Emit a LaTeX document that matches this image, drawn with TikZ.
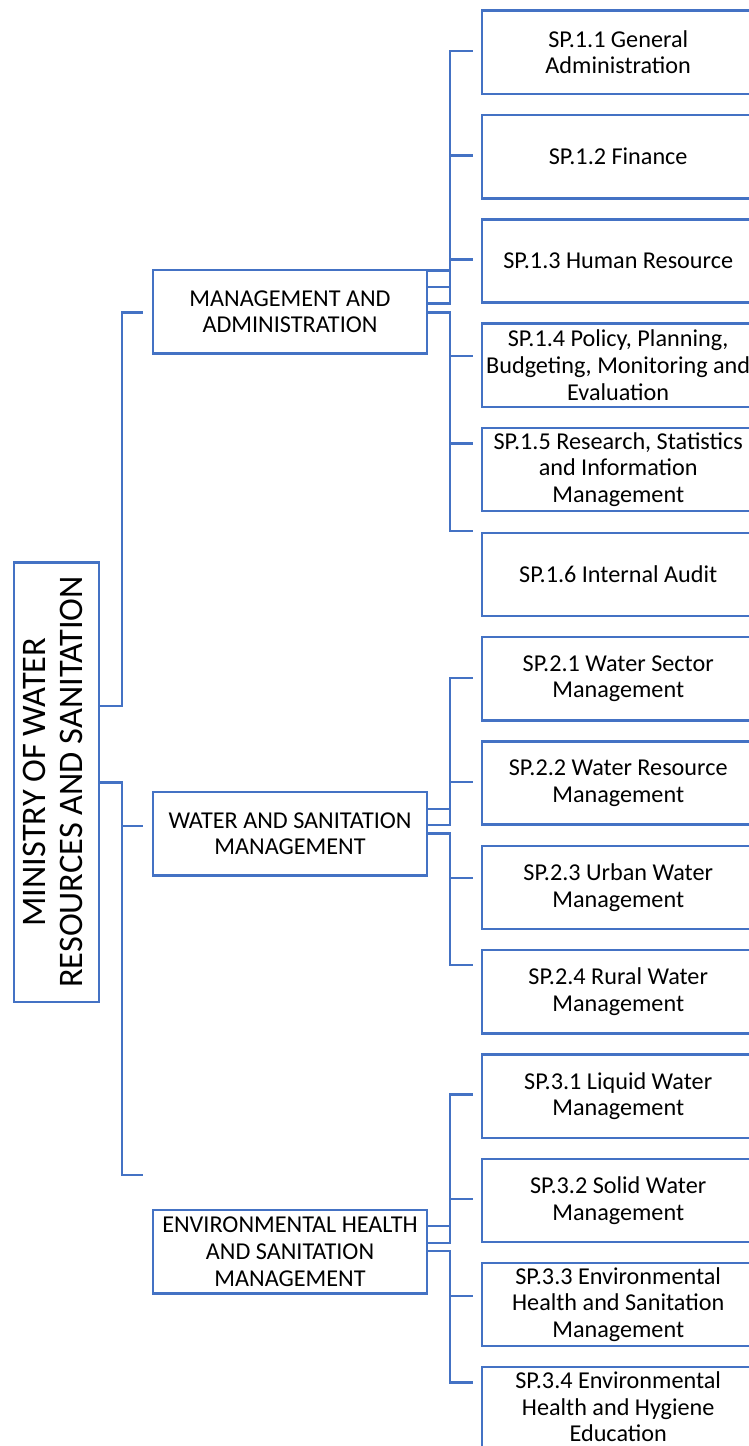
\documentclass[tikz,border=0pt]{standalone}
\usepackage{fontspec}
\usepackage{graphicx}
\setmainfont{Carlito}
\definecolor{ob}{HTML}{4472C4}
\begin{document}
\begin{tikzpicture}[x=1pt,y=-1pt,
  conn/.style={draw=ob,line width=2.4pt},
  box/.style={draw=ob,line width=2.4pt,align=center,inner sep=1pt,
    font=\fontsize{24.2}{26.7}\selectfont,text=black},
  sub/.style={box,anchor=north west,minimum width=272pt,minimum height=83.3pt},
  mid/.style={box,minimum width=274pt,minimum height=83.6pt},
]
\useasboundingbox (0,0) rectangle (749,1446);

% root
\node[draw=ob,line width=2.4pt,minimum width=85pt,minimum height=439.4pt,inner sep=0pt,
  font=\fontsize{34.4}{37.3}\selectfont] (root) at (56.5,782)
  {\rotatebox{90}{\begin{tabular}{@{}c@{}}MINISTRY OF WATER\\RESOURCES AND SANITATION\end{tabular}}};

% middle
\node[mid] (m) at (290,311.6) {MANAGEMENT AND\\ADMINISTRATION};
\node[mid] (w) at (290,833.8) {WATER AND SANITATION\\MANAGEMENT};
\node[mid] (e) at (290,1251.7) {ENVIRONMENTAL HEALTH\\AND SANITATION\\MANAGEMENT};

% sub programmes
\node[sub] (s11) at (481,9.3)   {SP.1.1 General\\Administration};
\node[sub] (s12) at (481,113.8) {SP.1.2 Finance};
\node[sub] (s13) at (481,218.1) {SP.1.3 Human Resource};
\node[sub] (s14) at (481,322.4) {SP.1.4 Policy, Planning,\\Budgeting, Monitoring and\\Evaluation};
\node[sub] (s15) at (481,426.7) {SP.1.5 Research, Statistics\\and Information\\Management};
\node[sub] (s16) at (481,531.5) {SP.1.6 Internal Audit};
\node[sub] (s21) at (481,635.8) {SP.2.1 Water Sector\\Management};
\node[sub] (s22) at (481,740.1) {SP.2.2 Water Resource\\Management};
\node[sub] (s23) at (481,844.6) {SP.2.3 Urban Water\\Management};
\node[sub] (s24) at (481,949.0) {SP.2.4 Rural Water\\Management};
\node[sub] (s31) at (481,1053.3) {SP.3.1 Liquid Water\\Management};
\node[sub] (s32) at (481,1157.7) {SP.3.2 Solid Water\\Management};
\node[sub] (s33) at (481,1261.7) {SP.3.3 Environmental\\Health and Sanitation\\Management};
\node[sub,minimum height=79.5pt] (s34) at (481,1366.0) {SP.3.4 Environmental\\Health and Hygiene\\Education};

% root connectors
\draw[conn] (root.east |- 0,705.7) -| (121.7,312.3) -- ([xshift=-9pt]m.west |- 0,312.3);
\draw[conn] (root.east |- 0,782.3) -| (121.7,1175) -- ([xshift=-9pt]e.west |- 0,1175);
\draw[conn] (121.7,825.7) -- ([xshift=-9pt]w.west |- 0,825.7);

% management group
\draw[conn] ([xshift=-8.3pt]s11.west |- 0,51) -- (450,51) -- (450,303.3) -- (m.east |- 0,303.3);
\draw[conn] (450,155.3) -- ([xshift=-8.3pt]s12.west |- 0,155.3);
\draw[conn] (450,259.3) -- ([xshift=-8.3pt]s13.west |- 0,259.3);
\draw[conn] (m.east |- 0,270.6) -- (450,270.6);
\draw[conn] (m.east |- 0,286.7) -- (450,286.7);
\draw[conn] (m.east |- 0,312.3) -| (450,530.7) -- ([xshift=-8.3pt]s16.west |- 0,530.7);
\draw[conn] (450,355.7) -- ([xshift=-8.3pt]s14.west |- 0,355.7);
\draw[conn] (450,443.3) -- ([xshift=-8.3pt]s15.west |- 0,443.3);

% water group
\draw[conn] ([xshift=-8.3pt]s21.west |- 0,677.7) -- (450,677.7) -- (450,825) -- (w.east |- 0,825);
\draw[conn] (450,781.7) -- ([xshift=-8.3pt]s22.west |- 0,781.7);
\draw[conn] (w.east |- 0,809) -- (450,809);
\draw[conn] (w.east |- 0,833.3) -| (450,965) -- ([xshift=-8.3pt]s24.west |- 0,965);
\draw[conn] (450,877.7) -- ([xshift=-8.3pt]s23.west |- 0,877.7);

% environmental group
\draw[conn] ([xshift=-8.3pt]s31.west |- 0,1094.3) -- (450,1094.3) -- (450,1242.7) -- (e.east |- 0,1242.7);
\draw[conn] (450,1199) -- ([xshift=-8.3pt]s32.west |- 0,1199);
\draw[conn] (e.east |- 0,1226) -- (450,1226);
\draw[conn] (e.east |- 0,1251) -| (450,1382.3) -- ([xshift=-8.3pt]s34.west |- 0,1382.3);
\draw[conn] (450,1295.7) -- ([xshift=-8.3pt]s33.west |- 0,1295.7);
\end{tikzpicture}
\end{document}
